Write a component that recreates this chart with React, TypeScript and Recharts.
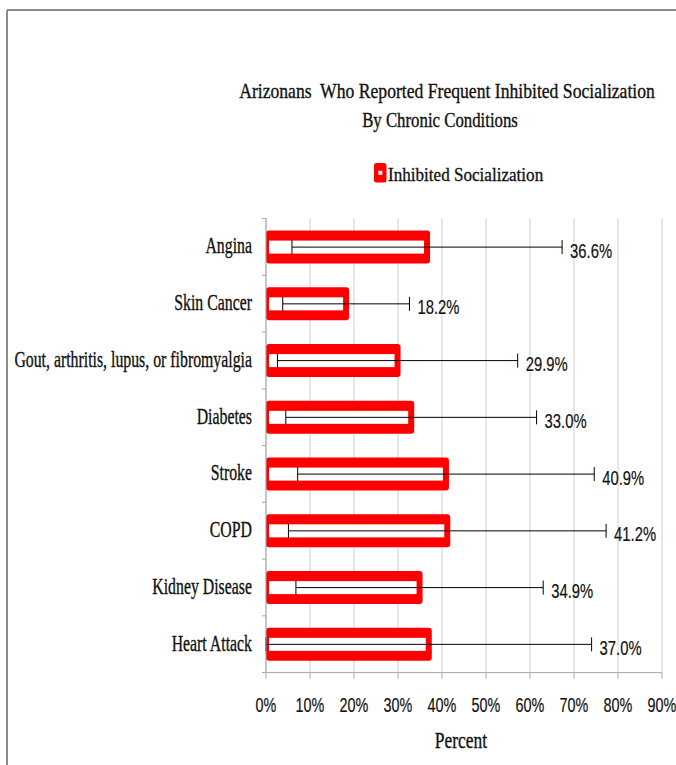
import React from "react";
import { BarChart, Bar, XAxis, YAxis, CartesianGrid, ErrorBar, Legend, Label } from "recharts";

const categories = [
  "Angina",
  "Skin Cancer",
  "Gout, arthritis, lupus, or fibromyalgia",
  "Diabetes",
  "Stroke",
  "COPD",
  "Kidney Disease",
  "Heart Attack",
];
const values = [36.6, 18.2, 29.9, 33.0, 40.9, 41.2, 34.9, 37.0];
const errors = [30.7, 14.4, 27.3, 28.5, 33.7, 36.1, 28.1, 37.0];
const xTicks = [0, 10, 20, 30, 40, 50, 60, 70, 80, 90];

const data = categories.map((name, i) => ({ name, value: values[i], err: errors[i] }));

const SERIF = "'Liberation Serif', 'Times New Roman', serif";
const SANS = "'Liberation Sans', Arial, sans-serif";
const INK = "#111";

// hollow red bar + value label placed just past the error bar end
const BarShape = (props: any) => {
  const { x, y, width, height, payload } = props;
  const end = x + (width * (payload.value + payload.err)) / payload.value;
  return (
    <g>
      <rect x={x} y={y} width={width + 3} height={height} rx={3} fill="#ff0000" />
      <rect x={x + 3} y={y + 10} width={width - 6} height={height - 20} fill="#ffffff" />
      <text
        transform={`translate(${end + 8},${y + height / 2 + 10.5}) scale(0.76,1)`}
        fontFamily={SANS}
        fontSize={19.5}
        fill={INK}
        stroke={INK}
        strokeWidth={0.2}
      >
        {payload.value.toFixed(1)}%
      </text>
    </g>
  );
};

const CategoryTick = (props: any) => {
  const { x, y, payload, height, visibleTicksCount, index } = props;
  const half = payload.offset || height / visibleTicksCount / 2;
  const axisX = x + 14;
  return (
    <g>
      <text
        transform={`translate(${x},${y + 6.5}) scale(0.7,1)`}
        textAnchor="end"
        fontFamily={SERIF}
        fontSize={22.6}
        fill={INK}
        stroke={INK}
        strokeWidth={0.35}
      >
        {payload.value}
      </text>
      <line x1={axisX - 4} x2={axisX} y1={y + half} y2={y + half} stroke="#a6a6a6" />
      {index === 0 && <line x1={axisX - 4} x2={axisX} y1={y - half} y2={y - half} stroke="#a6a6a6" />}
    </g>
  );
};

const PctTick = (props: any) => {
  const { x, y, payload } = props;
  return (
    <text
      transform={`translate(${x},${y + 31}) scale(0.72,1)`}
      textAnchor="middle"
      fontFamily={SANS}
      fontSize={20}
      fill={INK}
      stroke={INK}
      strokeWidth={0.2}
    >
      {payload.value}%
    </text>
  );
};

const PercentLabel = (props: any) => {
  const vb = props.viewBox || {};
  return (
    <text
      transform={`translate(${vb.x + vb.width / 2 - 3},${vb.y + 75.4}) scale(0.76,1)`}
      textAnchor="middle"
      fontFamily={SERIF}
      fontSize={23}
      fill={INK}
      stroke={INK}
      strokeWidth={0.35}
    >
      Percent
    </text>
  );
};

const LegendContent = () => (
  <svg width={200} height={32} style={{ display: "block" }}>
    <rect x={4} y={8} width={12.5} height={19.5} rx={2.5} fill="#ff0000" />
    <rect x={8.3} y={15.8} width={4} height={4} fill="#ffffff" />
    <text
      transform="translate(18,26) scale(0.95,1)"
      fontFamily={SERIF}
      fontSize={18}
      fill={INK}
      stroke={INK}
      strokeWidth={0.3}
    >
      Inhibited Socialization
    </text>
  </svg>
);

export default function App() {
  return (
    <div style={{ position: "absolute", left: 0, top: 0, width: 676, height: 765, background: "#fff", overflow: "hidden" }}>
      <svg width={676} height={765} style={{ position: "absolute", left: 0, top: 0 }}>
        <line x1={7} y1={10} x2={676} y2={10} stroke="#8c8c8c" strokeWidth={2} />
        <line x1={7} y1={10} x2={7} y2={765} stroke="#8c8c8c" strokeWidth={2} />
        <text
          transform="translate(447,98) scale(0.84,1)"
          textAnchor="middle"
          fontFamily={SERIF}
          fontSize={21}
          fill={INK}
          stroke={INK}
          strokeWidth={0.35}
          style={{ whiteSpace: "pre" }}
        >
          {"Arizonans  Who Reported Frequent Inhibited Socialization"}
        </text>
        <text
          transform="translate(440,127) scale(0.8,1)"
          textAnchor="middle"
          fontFamily={SERIF}
          fontSize={21}
          fill={INK}
          stroke={INK}
          strokeWidth={0.35}
        >
          By Chronic Conditions
        </text>
      </svg>
      <div style={{ position: "absolute", left: 0, top: 0 }}>
        <BarChart
          width={676}
          height={765}
          layout="vertical"
          data={data}
          margin={{ top: 218.6, right: 14, bottom: 52.4, left: 8 }}
        >
          <CartesianGrid horizontal={false} stroke="#cfcfcf" />
          <XAxis
            type="number"
            domain={[0, 90]}
            ticks={xTicks}
            height={40}
            axisLine={{ stroke: "#a6a6a6" }}
            tickLine={{ stroke: "#a6a6a6" }}
            tickSize={6}
            tick={(p: any) => <PctTick {...p} />}
          >
            <Label content={PercentLabel} />
          </XAxis>
          <YAxis
            type="category"
            dataKey="name"
            width={258}
            axisLine={{ stroke: "#a6a6a6" }}
            tickLine={false}
            tickSize={0}
            tickMargin={14}
            interval={0}
            tick={(p: any) => <CategoryTick {...p} />}
          />
          <Legend
            layout="horizontal"
            verticalAlign="middle"
            align="center"
            content={LegendContent}
            wrapperStyle={{ left: 370, top: 155, width: 200, height: 32 }}
          />
          <Bar dataKey="value" barSize={33} shape={BarShape} isAnimationActive={false}>
            <ErrorBar dataKey="err" direction="x" width={7} stroke="#000" strokeWidth={1} isAnimationActive={false} />
          </Bar>
        </BarChart>
      </div>
    </div>
  );
}
